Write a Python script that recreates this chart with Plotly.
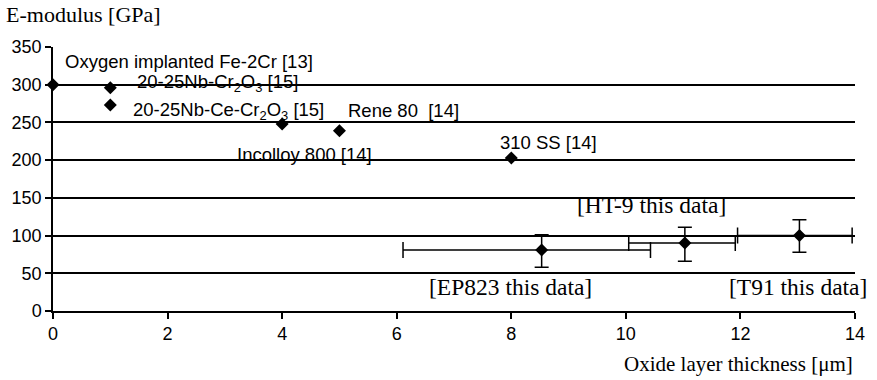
import plotly.graph_objects as go

# Literature data
lit_x = [0, 1, 1, 4, 5, 8]
lit_y = [300, 296, 273, 248, 239, 203]

# This data (with asymmetric error bars)
this_names = ["EP823", "HT-9", "T91"]
this_x = [8.53, 11.03, 13.03]
this_y = [81, 90, 100]
this_x_plus = [1.9, 0.88, 0.92]
this_x_minus = [2.42, 0.98, 1.08]
this_y_plus = [20, 21, 21]
this_y_minus = [23, 24, 22]

y_ticks = [0, 50, 100, 150, 200, 250, 300, 350]
x_ticks = [0, 2, 4, 6, 8, 10, 12, 14]

# text, x, y, anchor, family, xshift
labels = [
    ("Oxygen implanted Fe-2Cr [13]", 0.17, 331, "left", "sans", 0),
    ("20-25Nb-Cr<sub>2</sub>O<sub>3</sub> [15]", 1.44, 302, "left", "sans", 0),
    ("20-25Nb-Ce-Cr<sub>2</sub>O<sub>3</sub> [15]", 1.37, 265, "left", "sans", 0),
    ("Rene 80  [14]", 5.11, 266, "left", "sans", 0),
    ("Incolloy 800 [14]", 3.17, 208, "left", "sans", 0),
    ("310 SS [14]", 7.77, 224, "left", "sans", 0),
    ("[HT-9 this data]", 9.11, 141, "left", "serif", 0),
    ("[EP823 this data]", 6.52, 32, "left", "serif", 0),
    ("[T91 this data]", 14, 32, "right", "serif", 14),
]

SANS = "Liberation Sans, Arial, sans-serif"
SERIF = "Liberation Serif, Times New Roman, serif"

fig = go.Figure()
fig.add_trace(go.Scatter(
    x=lit_x, y=lit_y, mode="markers",
    marker=dict(symbol="diamond", size=10, color="black"),
    cliponaxis=False, showlegend=False,
))
fig.add_trace(go.Scatter(
    x=this_x, y=this_y, mode="markers",
    marker=dict(symbol="diamond", size=10, color="black"),
    error_x=dict(type="data", symmetric=False, array=this_x_plus, arrayminus=this_x_minus,
                 color="black", thickness=1.5, width=8),
    error_y=dict(type="data", symmetric=False, array=this_y_plus, arrayminus=this_y_minus,
                 color="black", thickness=1.5, width=7),
    cliponaxis=False, showlegend=False,
))

for text, x, y, anchor, fam, xs in labels:
    fig.add_annotation(
        x=x, y=y, xref="x", yref="y", text=text, showarrow=False,
        xanchor=anchor, yanchor="middle", xshift=xs,
        font=dict(family=SANS if fam == "sans" else SERIF,
                  size=18.5 if fam == "sans" else 23.5, color="black"),
    )

fig.add_annotation(x=0, y=1, xref="paper", yref="paper", xshift=-49, yshift=33,
                   text="E-modulus [GPa]", showarrow=False, xanchor="left", yanchor="middle",
                   font=dict(family=SERIF, size=22, color="black"))
fig.add_annotation(x=1, y=0, xref="paper", yref="paper", xshift=0, yshift=-53,
                   text="Oxide layer thickness [\u03bcm]", showarrow=False,
                   xanchor="right", yanchor="middle",
                   font=dict(family=SERIF, size=21, color="black"))

fig.update_layout(
    width=877, height=380,
    margin=dict(l=53, r=19, t=47, b=69),
    plot_bgcolor="white", paper_bgcolor="white",
    font=dict(family=SANS, size=18, color="black"),
    xaxis=dict(
        range=[0, 14], tickvals=x_ticks, ticktext=[str(v) for v in x_ticks],
        showgrid=False, zeroline=False, showline=True, linecolor="black", linewidth=1.5,
        ticks="outside", ticklen=6, tickwidth=1.5, tickcolor="black",
        tickfont=dict(family=SANS, size=18),
    ),
    yaxis=dict(
        range=[0, 350], tickvals=y_ticks, ticktext=[str(v) for v in y_ticks],
        showgrid=True, gridcolor="black", gridwidth=1.5, zeroline=False,
        showline=True, linecolor="black", linewidth=1.5,
        ticks="outside", ticklen=6, tickwidth=1.5, tickcolor="black",
        tickfont=dict(family=SANS, size=18),
    ),
)

fig.write_html("out.html")
